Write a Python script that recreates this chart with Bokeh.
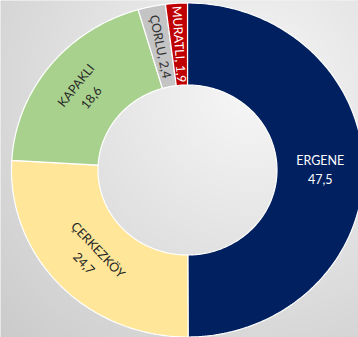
import numpy as np
from bokeh.plotting import figure
from bokeh.models import Range1d, ColumnDataSource
from bokeh.core.properties import value
from bokeh.embed import file_html
from bokeh.resources import INLINE

# ---- data ----
districts = ["ERGENE", "ÇERKEZKÖY", "KAPAKLI", "ÇORLU", "MURATLI"]
shares = [47.5, 24.7, 18.6, 2.4, 1.9]
colors = ["#002060", "#FFE699", "#A9D18E", "#C4C4C4", "#C00000"]
text_colors = ["#FFFFFF", "#262626", "#262626", "#333333", "#FFFFFF"]
orient = ["horizontal", "tangential", "tangential", "radial", "radial"]
label_fmt = ["{n}\n{v}", "{n}\n{v}", "{n}\n{v}", "{n}, {v}", "{n}, {v}"]

# ---- geometry (pixel-like data units) ----
W, H = 358, 337
cx, cy = 187.0, 337 - 169.5
a_out, b_out = 176.0, 167.0
a_in, b_in = 89.5, 85.0

p = figure(width=W, height=H, output_backend="svg", toolbar_location=None,
           x_range=Range1d(0, W), y_range=Range1d(0, H),
           min_border=0, outline_line_color=None)
p.axis.visible = False
p.grid.visible = False
p.background_fill_color = "#e4e4e4"
p.border_fill_color = "#e4e4e4"

# background radial gradient
xx, yy = np.meshgrid(np.arange(W), np.arange(H))
ref_y = H - yy
d = np.sqrt((xx - 250) ** 2 + (ref_y - 90) ** 2)
g = np.clip(247 - 0.125 * d, 202, 247).astype(np.uint32)
img = (255 << 24) | (g << 16) | (g << 8) | g
p.image_rgba(image=[img.astype(np.uint32)], x=0, y=0, dw=W, dh=H)

total = sum(shares)
fr = np.array(shares) / total
ends = np.cumsum(fr) * 2 * np.pi
starts = ends - fr * 2 * np.pi

xs, ys = [], []
for s, e in zip(starts, ends):
    n = max(8, int((e - s) / (2 * np.pi) * 400))
    t = np.linspace(s, e, n)
    ox = cx + a_out * np.sin(t)
    oy = cy + b_out * np.cos(t)
    ix = cx + a_in * np.sin(t[::-1])
    iy = cy + b_in * np.cos(t[::-1])
    xs.append(list(np.concatenate([ox, ix])))
    ys.append(list(np.concatenate([oy, iy])))

src = ColumnDataSource(dict(xs=xs, ys=ys, color=colors))
p.patches("xs", "ys", source=src, fill_color="color", line_color="white",
          line_width=1.2)

# labels
lx, ly, la, lt = [], [], [], []
a_mid, b_mid = (a_out + a_in) / 2, (b_out + b_in) / 2
for name, v, s, e, o, f in zip(districts, shares, starts, ends, orient, label_fmt):
    m = (s + e) / 2
    lx.append(cx + a_mid * np.sin(m))
    ly.append(cy + b_mid * np.cos(m))
    rad = np.pi / 2 - m  # math angle of radius direction
    if o == "horizontal":
        ang = 0.0
    elif o == "tangential":
        ang = rad + np.pi / 2
    else:
        ang = rad + np.pi  # reading inward
    ang = (ang + np.pi) % (2 * np.pi) - np.pi
    if o == "tangential":
        if ang > np.pi / 2:
            ang -= np.pi
        elif ang < -np.pi / 2:
            ang += np.pi
    la.append(ang)
    lt.append(f.format(n=name, v=f"{v:.1f}".replace(".", ",")))

lsrc = ColumnDataSource(dict(x=lx, y=ly, text=lt, angle=la, tc=text_colors))
p.text("x", "y", text="text", angle="angle", source=lsrc,
       text_color="tc", text_font=value("Lato"), text_font_size="12.5px",
       text_align="center", text_baseline="middle", text_line_height=1.3)

open("out.html", "w").write(file_html(p, INLINE))
